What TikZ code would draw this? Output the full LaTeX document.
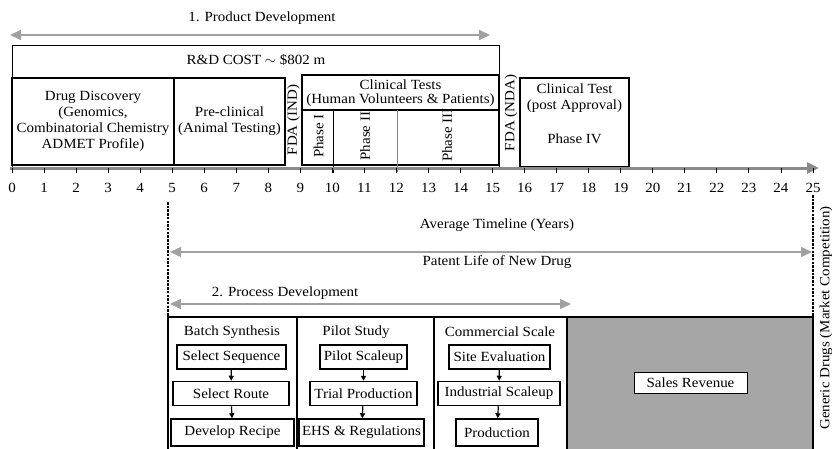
\documentclass[tikz,border=0pt]{standalone}
\usepackage{fontspec}
\setmainfont[FakeStretch=1.07]{Liberation Serif}
\usetikzlibrary{arrows.meta}
\definecolor{arrgray}{HTML}{A0A0A0}
\definecolor{axgray}{HTML}{8A8A8A}
\definecolor{salesgray}{HTML}{A6A6A6}
\begin{document}
\begin{tikzpicture}[x=1pt,y=-1pt,
  font=\fontsize{14}{16}\selectfont,
  box/.style={draw, line width=1.3pt, inner sep=0pt, align=center},
  thinbox/.style={draw, line width=0.9pt, inner sep=0pt, align=center},
  stepbox/.style={draw, line width=1.5pt, inner sep=0pt, minimum height=24pt, align=center},
  lbl/.style={inner sep=0pt, align=center},
  rot/.style={inner sep=0pt, rotate=90},
  garrow/.style={draw=arrgray, line width=1.4pt, {Triangle[length=11pt,width=10pt]}-{Triangle[length=11pt,width=10pt]}},
  flow/.style={draw, line width=1.2pt, -{Triangle[length=5pt,width=5pt]}},
  dashln/.style={draw, line width=1.3pt, dash pattern=on 2.5pt off 1.2pt}
]
\useasboundingbox (0,0) rectangle (832,448);

% ---- 1. Product Development
\node[lbl] (pdt) at (262,18) {1. Product Development};
\coordinate (pdL) at (10,35);
\coordinate (pdR) at (490,35);
\draw[garrow, line width=2pt] (pdL) -- (pdR);

% R&D box
\node[thinbox, minimum width=487pt, minimum height=122pt] (rd) at (255.5,106) {};
\node[lbl] (rdt) at (256,60) {R\&D COST $\sim$ \$802 m};

\node[box, minimum width=162pt, minimum height=87pt] (dd) at (93,121.5)
  {Drug Discovery\\(Genomics,\\Combinatorial Chemistry\\ADMET Profile)};
\node[box, minimum width=111pt, minimum height=87pt] (pc) at (229.5,121.5)
  {Pre-clinical\\(Animal Testing)};
\node[rot] (ind) at (293.5,120) {FDA (IND)};

% clinical tests
\node[box, line width=1.6pt, minimum width=197pt, minimum height=90pt] (ct) at (400.5,120) {};
\node[lbl] (ctt) at (400.5,93) {Clinical Tests\\[-2pt](Human Volunteers \& Patients)};
\draw[line width=1.2pt] (ct.west |- 0,110) coordinate (ctdl) -- (ct.east |- 0,110) coordinate (ctdr);
\coordinate (p12t) at (333,110);
\coordinate (p12b) at (333,173);
\draw[line width=1pt] (p12t) -- (p12b);
\coordinate (p23t) at (397,110);
\coordinate (p23b) at (397,172);
\draw[draw=gray, line width=1pt] (p23t) -- (p23b);
\node[rot] (ph1) at (318.5,136) {Phase I};
\node[rot] (ph2) at (365,136) {Phase II};
\node[rot] (ph3) at (447,135) {Phase III};
\node[rot] (nda) at (511,113) {FDA (NDA)};

\node[box, minimum width=109pt, minimum height=89pt] (c4) at (574.5,122.5) {};
\node[lbl] (c4t) at (574.5,98) {Clinical Test\\(post Approval)};
\node[lbl] (c4p) at (574.5,139) {Phase IV};

% ---- timeline axis
\coordinate (ax0) at (10,168);
\coordinate (ax1) at (819,168);
\draw[draw=axgray, line width=3pt, -{Triangle[length=12pt,width=11pt]}] (ax0) -- (ax1);
\foreach \i in {0,...,25} {
  \draw[line width=0.9pt] ({12+32.04*\i},168) -- ({12+32.04*\i},173);
  \node[lbl] (t\i) at ({12+32.04*\i},188) {\i};
}
\node[lbl] (avg) at (497,225) {Average Timeline (Years)};

% dashed markers
\coordinate (dLt) at (168,202);
\coordinate (dLb) at (168,317);
\coordinate (dRt) at (813,195);
\coordinate (dRb) at (813,317);
\draw[dashln] (dLt) -- (dLb);
\draw[dashln] (dRt) -- (dRb);

% patent life
\coordinate (plL) at (170,252);
\coordinate (plR) at (812,252);
\draw[garrow] (plL) -- (plR);
\node[lbl] (pl) at (497,262) {Patent Life of New Drug};

% ---- 2. Process Development
\node[lbl] (pdv) at (285,293) {2. Process Development};
\coordinate (prL) at (170,304);
\coordinate (prR) at (571,304);
\draw[garrow] (prL) -- (prR);

% columns
\fill[salesgray] (567,317) rectangle (813,452);
\draw[line width=1.2pt] (168,452) -- (168,317) -- (813,317) -- (813,452);
\draw[line width=1.2pt] (297,317) -- (297,452);
\draw[line width=1.2pt] (434,317) -- (434,452);
\draw[line width=1.2pt] (567,317) -- (567,452);

\node[lbl] (bs) at (232,332) {Batch Synthesis};
\node[stepbox, minimum width=109pt] (b1) at (231.5,357) {Select Sequence};
\node[stepbox, minimum width=116pt] (b2) at (231,393.5) {Select Route};
\node[stepbox, minimum width=123pt, minimum height=27pt] (b3) at (232.5,432.5) {Develop Recipe};
\draw[flow] (b1) -- (b2);
\draw[flow] (b2) -- (b3);

\node[lbl] (ps) at (356,332) {Pilot Study};
\node[stepbox, minimum width=87pt] (p1) at (363.5,357) {Pilot Scaleup};
\node[stepbox, minimum width=107pt] (p2) at (363.5,393.5) {Trial Production};
\node[stepbox, minimum width=125pt, minimum height=27pt] (p3) at (361.5,432.5) {EHS \& Regulations};
\draw[flow] (p1) -- (p2);
\draw[flow] (p2) -- (p3);

\node[lbl] (cs) at (500,332) {Commercial Scale};
\node[stepbox, minimum width=101pt] (k1) at (499.5,357) {Site Evaluation};
\node[stepbox, minimum width=122pt] (k2) at (499,393.5) {Industrial Scaleup};
\node[stepbox, minimum width=82pt, minimum height=27pt] (k3) at (497,432.5) {Production};
\draw[flow] (k1) -- (k2);
\draw[flow] (k2) -- (k3);

\node[draw, fill=white, line width=1pt, minimum width=113pt, minimum height=21pt, inner sep=0pt] (sr) at (690.5,382.5) {Sales Revenue};

\node[rot] (gd) at (826,318) {Generic Drugs (Market Competition)};
\end{tikzpicture}
\end{document}
